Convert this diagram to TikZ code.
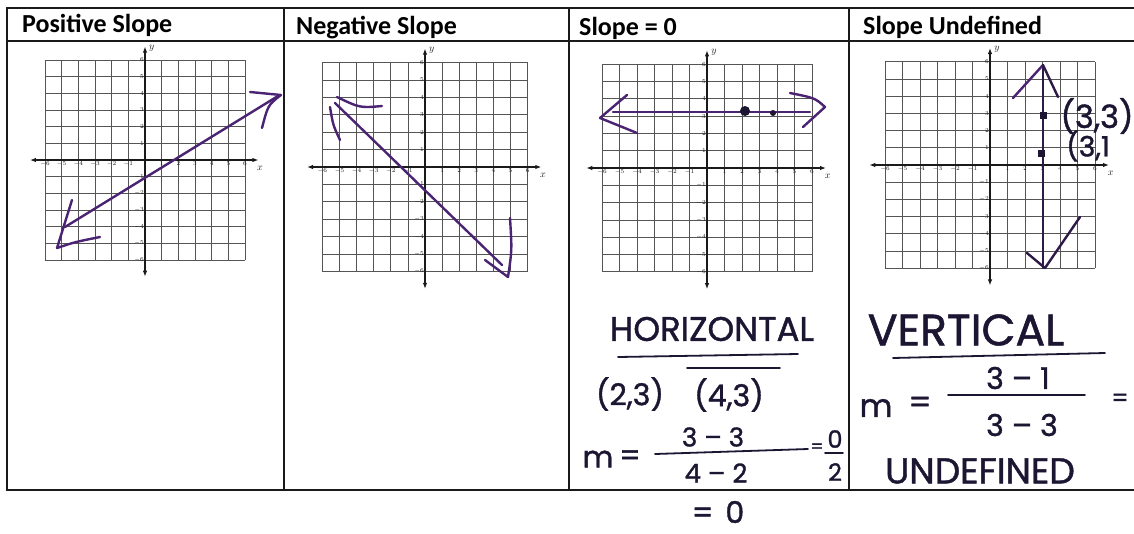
\documentclass[tikz,border=0pt]{standalone}
\usepackage{fontspec}
\setmainfont{Carlito}
\newfontfamily\handfont{Poppins}[FakeBold=1.2]
\usetikzlibrary{arrows.meta,positioning,calc}
\definecolor{ink}{HTML}{1A1A1A}
\definecolor{gridgray}{HTML}{555555}
\definecolor{pen}{HTML}{1D1633}
\definecolor{marker}{HTML}{4A2372}
\definecolor{markerdark}{HTML}{2E1A47}
\tikzset{
  tableline/.style={draw=ink,line width=1.3pt},
  headtext/.style={anchor=base west,inner sep=0pt,
                   font=\fontsize{26}{30}\selectfont\bfseries},
  gridline/.style={draw=gridgray,line width=0.7pt},
  axisline/.style={draw=ink,line width=1.1pt,
                   {Latex[length=6pt,width=4.5pt]}-{Latex[length=6pt,width=4.5pt]}},
  ticklabel/.style={inner sep=1pt,font=\fontsize{6}{6}\selectfont,text=ink},
  axislabel/.style={inner sep=1pt,font=\fontsize{10}{10}\selectfont,text=ink},
  graphline/.style={draw=marker,line width=2.4pt,line cap=round,line join=round},
  darkline/.style={draw=markerdark,line width=2.4pt,line cap=round,line join=round},
  pendot/.style={circle,fill=pen,inner sep=0pt,minimum size=#1},
  pensquare/.style={rectangle,fill=pen,inner sep=0pt,minimum size=#1},
  handtext/.style={inner sep=0pt,text=pen,font=\handfont\fontsize{#1}{#1}\selectfont},
  penline/.style={draw=pen,line width=1.8pt,line cap=round}
}

\begin{document}
\begin{tikzpicture}[x=1pt,y=-1pt]
  \fill[white] (0,0) rectangle (1134,533);
  \useasboundingbox (0,0) rectangle (1134,533);
  \clip (0,0) rectangle (1134,533);

  \draw[tableline] (7,8) rectangle (1140,490);
  \draw[tableline] (7,41) -- (1140,41);
  \foreach \cx in {284,569,849}
    \draw[tableline] (\cx,8) -- (\cx,490);

  \node[headtext] (hpos) at (22,32) {Positive Slope};
  \node[headtext] (hneg) at (296,34) {Negative Slope};
  \node[headtext] (hzero) at (579,35) {Slope = 0};
  \node[headtext] (hundef) at (863,34) {Slope Undefined};

  \foreach \ox/\oy/\cw/\ch in {145/160/16.67/16.67,425/167/17.1/17.4,
                               707/168/17.5/17.3,990/165/17.5/17.2}{
    \begin{scope}[shift={(\ox,\oy)},x=\cw pt,y=\ch pt]
      \foreach \k in {-6,...,6}{
        \draw[gridline] (\k,-6) -- (\k,6);
        \draw[gridline] (-6,\k) -- (6,\k);
      }
      \draw[axisline] (-6.9,0) -- (6.8,0);
      \draw[axisline] (0,-7) -- (0,6.8);
      \foreach \k in {-6,...,-1,1,2,...,6}{
        \node[ticklabel,below] (xt\k) at (\k,0) {$\k$};
        \node[ticklabel,left] (yt\k) at (0,\k) {$\k$};
      }
      \node[axislabel] (xlab) at (6.9,-0.5) {$x$};
      \node[axislabel] (ylab) at (0.4,6.7) {$y$};
    \end{scope}
  }

  \draw[graphline] (65,227) -- (278,96);
  \draw[graphline] (72,200) -- (57,248) .. controls (75,242) .. (100,237);
  \draw[graphline] (250,92) -- (281,95) .. controls (268,105) .. (262,128);

  \draw[graphline] (335,103) -- (502,265);
  \draw[graphline] (337,97) .. controls (360,108) .. (382,106);
  \draw[graphline] (330,107) .. controls (333,125) .. (340,140);
  \draw[graphline] (485,260) -- (508,277) .. controls (512,250) .. (510,218);

  \draw[graphline] (613,112) -- (810,112);
  \draw[graphline] (627,95) -- (600,118) -- (637,133);
  \draw[graphline] (790,93) .. controls (815,98) .. (825,107) -- (803,127);
  \node[pendot=10pt] (ptA) at (745,111) {};
  \node[pendot=6pt] (ptB) at (773,113) {};

  \draw[darkline] (1043,67) -- (1043,268);
  \draw[graphline] (1013,98) -- (1043,65);
  \draw[darkline] (1043,65) -- (1058,97);
  \draw[darkline] (1027,253) -- (1045,268) -- (1080,217);
  \node[pensquare=7pt] (ptC) at (1043,115) {};
  \node[pensquare=7pt] (ptD) at (1041,153) {};
  \node[handtext=32] (lblA) at (1097,116) {(3,3)};
  \node[handtext=28,anchor=west] (lblB) at (1066,146) {(3,1};

  \node[handtext=34] (horiz) at (712,329) {HORIZONTAL};
  \draw[penline] (618,357) -- (798,354);
  \draw[penline] (687,368) -- (780,368);
  \node[handtext=30] (pairA) at (630,394) {(2,3)};
  \node[handtext=30] (pairB) at (729,395) {(4,3)};
  \node[handtext=30] (mA) at (598,459) {m};
  \node[handtext=30] (eqA) at (630,458) {=};
  \node[handtext=26] (numA) at (713,437) {3 – 3};
  \draw[penline] (655,454) -- (808,449);
  \node[handtext=26] (denA) at (716,473) {4 – 2};
  \node[handtext=18] (eqB) at (817,448) {=};
  \node[handtext=24] (zeroA) at (835,439) {0};
  \draw[penline] (825,453) -- (843,453);
  \node[handtext=24] (twoA) at (835,472) {2};
  \node[handtext=30] (eqC) at (718,512) {=\hspace{12pt}0};

  \node[handtext=44] (vert) at (966,330) {VERTICAL};
  \draw[penline] (893,358) -- (1105,353);
  \node[handtext=32] (mB) at (876,408) {m};
  \node[handtext=32] (eqD) at (920,405) {=};
  \node[handtext=30] (numB) at (1018,378) {3 – 1};
  \draw[penline] (948,395) -- (1085,395);
  \node[handtext=30] (denB) at (1022,425) {3 – 3};
  \node[handtext=24] (eqE) at (1120,400) {=};
  \node[handtext=36] (undef) at (980,471) {UNDEFINED};
\end{tikzpicture}
\end{document}
